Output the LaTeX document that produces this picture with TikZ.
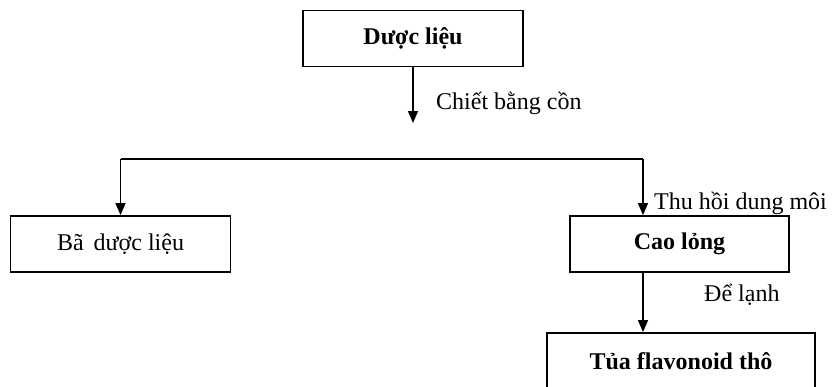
\documentclass[tikz,border=0pt]{standalone}
\usepackage{fontspec}
\setmainfont{Liberation Serif}
\usetikzlibrary{arrows.meta}
\begin{document}
\begin{tikzpicture}[x=1pt,y=-1pt,
  boxst/.style={draw, line width=1.8pt, inner sep=0pt, minimum width=220pt, minimum height=56pt, font=\fontsize{24}{28}\selectfont},
  bbox/.style={boxst, font=\fontsize{24}{28}\selectfont\bfseries},
  lbl/.style={anchor=west, inner sep=0pt, font=\fontsize{24}{28}\selectfont},
  arr/.style={line width=1.4pt, -{Triangle[length=12pt,width=10pt]}},
  ln/.style={line width=1.4pt}]
\useasboundingbox (0,0) rectangle (833,386);
\clip (0,0) rectangle (833,386);
\node[bbox] (dl) at (413,38.5) {Dược liệu};
\node[boxst] (ba) at (120.5,244) {Bã\, dược liệu};
\node[bbox, minimum width=219pt] (cao) at (679.5,244) {Cao lỏng};
\node[bbox, minimum width=268pt] (tua) at (681,361) {Tủa flavonoid thô};
\coordinate (e1) at (413,123);
\coordinate (hl) at (120.5,159);
\coordinate (hr) at (643,159);
\draw[arr] (dl.south) -- (e1);
\draw[ln] (hl) -- (hr);
\draw[arr] (hl) -- (ba.north);
\draw[arr] (hr) -- (hr |- cao.north);
\draw[arr] (cao.south -| hr) -- (tua.north -| hr);
\node[lbl] (l1) at (436,103) {Chiết bằng cồn};
\node[lbl] (l2) at (654,203) {Thu hồi dung môi};
\node[lbl] (l3) at (704,295) {Để lạnh};
\end{tikzpicture}
\end{document}
